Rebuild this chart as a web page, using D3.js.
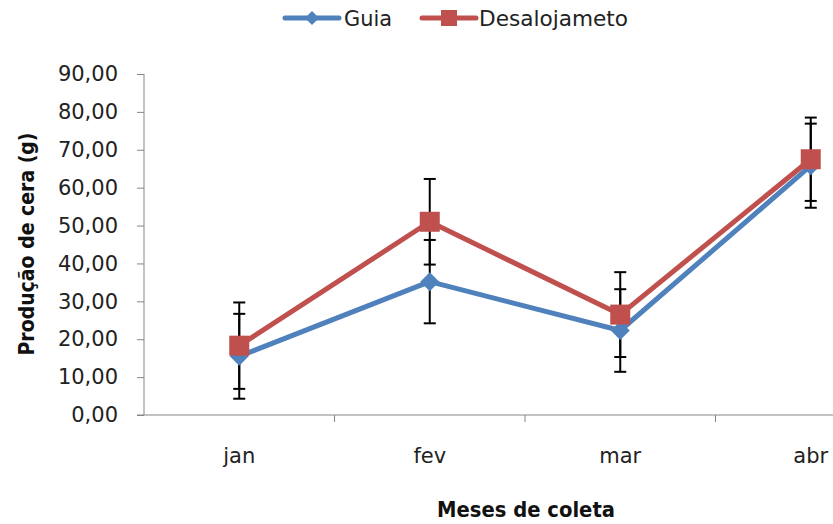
<!DOCTYPE html>
<html><head><meta charset="utf-8">
<script src="https://cdn.jsdelivr.net/npm/d3@7"></script>
<style>body{margin:0;background:#fff}svg{display:block}text{font-family:"DejaVu Sans",sans-serif}</style>
</head><body><svg id="c" width="833" height="524"></svg>
<script>
const months = ["jan", "fev", "mar", "abr"];
const guia = [15.5, 35.2, 22.3, 65.8];
const guiaErr = [11.2, 11.0, 10.9, 11.1];
const desal = [18.3, 51.0, 26.5, 67.5];
const desalErr = [11.4, 11.3, 11.2, 11.0];
const yTicks = [0, 10, 20, 30, 40, 50, 60, 70, 80, 90];
const seriesNames = ["Guia", "Desalojameto"];

const svg = d3.select("#c");
const x = d3.scaleBand().domain(months).range([144, 906]);
const y = d3.scaleLinear().domain([0, 90]).range([415, 74]);
const cx = m => x(m) + x.bandwidth() / 2;
const blue = "#4F81BD", red = "#C0504D", axisCol = "#868686";

// Y axis
const ya = svg.append("g").attr("transform", "translate(144,0)")
  .call(d3.axisLeft(y).tickValues(yTicks).tickSize(7).tickPadding(19)
    .tickFormat(d => d.toFixed(2).replace(".", ",")));
ya.select(".domain").attr("stroke", axisCol).attr("d", "M0,74V415");
ya.selectAll(".tick line").attr("stroke", axisCol);
ya.selectAll(".tick text").attr("font-size", 21).attr("fill", "#222")
  .attr("font-family", "DejaVu Sans");

// X axis
const xg = svg.append("g").attr("transform", "translate(0,415)");
xg.append("line").attr("x1", 137).attr("x2", 906).attr("stroke", axisCol);
const bounds = months.map(m => x(m)).concat([x.range()[1]]);
xg.selectAll(".bt").data(bounds.slice(1)).enter().append("line")
  .attr("x1", d => d).attr("x2", d => d).attr("y1", 0).attr("y2", 7).attr("stroke", axisCol);
const xa = svg.append("g").attr("transform", "translate(0,415)")
  .call(d3.axisBottom(x).tickSize(0).tickPadding(33));
xa.select(".domain").remove();
xa.selectAll(".tick text").attr("font-size", 21).attr("fill", "#222")
  .attr("font-family", "DejaVu Sans");

// titles
svg.append("text").attr("x", 526).attr("y", 517).attr("text-anchor", "middle")
  .attr("font-size", 21).attr("font-weight", "bold").attr("fill", "#111")
  .attr("textLength", 178).attr("lengthAdjust", "spacingAndGlyphs").text("Meses de coleta");
svg.append("text").attr("transform", "translate(34,244) rotate(-90)").attr("text-anchor", "middle")
  .attr("font-size", 21).attr("font-weight", "bold").attr("fill", "#111")
  .attr("textLength", 223).attr("lengthAdjust", "spacingAndGlyphs").text("Produção de cera (g)");

const line = d3.line().x((d, i) => cx(months[i])).y(d => y(d));
const series = [
  {name: seriesNames[0], vals: guia, err: guiaErr, color: blue, shape: "diamond", tw: 48},
  {name: seriesNames[1], vals: desal, err: desalErr, color: red, shape: "square", tw: 149}
];
series.forEach(s => {
  svg.append("path").attr("d", line(s.vals)).attr("fill", "none")
    .attr("stroke", s.color).attr("stroke-width", 5).attr("stroke-linejoin", "round");
});
// error bars
series.forEach(s => {
  const g = svg.append("g").attr("stroke", "#000").attr("stroke-width", 2);
  s.vals.forEach((v, i) => {
    const X = cx(months[i]), hi = y(v + s.err[i]), lo = y(v - s.err[i]);
    g.append("line").attr("x1", X).attr("x2", X).attr("y1", hi).attr("y2", lo);
    g.append("line").attr("x1", X - 6).attr("x2", X + 6).attr("y1", hi).attr("y2", hi);
    g.append("line").attr("x1", X - 6).attr("x2", X + 6).attr("y1", lo).attr("y2", lo);
  });
});
function marker(g, shape, X, Y, color, sz) {
  if (shape === "diamond") {
    g.append("path").attr("d", `M${X},${Y - sz}L${X + sz},${Y}L${X},${Y + sz}L${X - sz},${Y}Z`).attr("fill", color);
  } else {
    g.append("rect").attr("x", X - sz).attr("y", Y - sz).attr("width", 2 * sz).attr("height", 2 * sz).attr("fill", color);
  }
}
series.forEach(s => {
  const g = svg.append("g");
  s.vals.forEach((v, i) => marker(g, s.shape, cx(months[i]), y(v), s.color, s.shape === "diamond" ? 9.5 : 10));
});

// legend
const leg = [{x: 285, tx: 344}, {x: 422, tx: 479}];
series.forEach((s, i) => {
  const L = leg[i];
  svg.append("line").attr("x1", L.x).attr("x2", L.x + 54).attr("y1", 18).attr("y2", 18)
    .attr("stroke", s.color).attr("stroke-width", 5).attr("stroke-linecap", "round");
  marker(svg, s.shape, L.x + 27, 18, s.color, s.shape === "diamond" ? 7 : 8);
  svg.append("text").attr("x", L.tx).attr("y", 26).attr("font-size", 21).attr("fill", "#222")
    .attr("textLength", s.tw).attr("lengthAdjust", "spacingAndGlyphs").text(s.name);
});
</script></body></html>
